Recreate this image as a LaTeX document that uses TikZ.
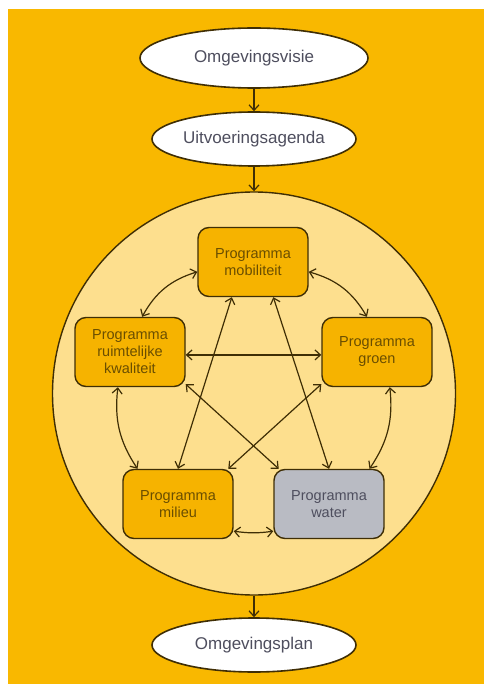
\documentclass[tikz,border=0pt]{standalone}
\usepackage{fontspec}
\setmainfont{Liberation Sans}
\usetikzlibrary{shapes.geometric,arrows.meta}
\definecolor{bgorange}{HTML}{F9B800}
\definecolor{circfill}{HTML}{FDDF8E}
\definecolor{boxfill}{HTML}{F6B300}
\definecolor{boxgray}{HTML}{B9BBC3}
\definecolor{lineb}{HTML}{3F2E05}
\definecolor{elltext}{HTML}{4E4E5E}
\definecolor{boxtext}{HTML}{6A4E00}
\begin{document}
\begin{tikzpicture}[x=1pt,y=1pt,
  ell/.style={ellipse, draw=lineb, fill=white, line width=1.6pt, inner sep=0pt,
    text=elltext, font=\fontsize{17}{20}\selectfont},
  prog/.style={rectangle, rounded corners=11pt, draw=lineb, fill=boxfill, line width=1.4pt,
    minimum width=110pt, minimum height=69pt, inner sep=0pt, align=center,
    text=boxtext, font=\fontsize{14.5}{17}\selectfont},
  tip/.tip={Straight Barb[length=5.5pt,width=10pt,line width=1.2pt]},
  flow/.style={draw=lineb, line width=1.3pt, -tip},
  link/.style={draw=lineb, line width=1.2pt, tip-tip}]
\useasboundingbox (0,0) rectangle (484,-684);
\fill[white] (0,0) rectangle (484,-684);
\fill[bgorange] (8,-9) rectangle (484,-684);

\node[circle, draw=lineb, fill=circfill, line width=1.4pt, minimum size=403pt, inner sep=0pt] (c) at (254,-393.5) {};

\node[ell, minimum width=228pt, minimum height=60pt] (vis) at (254,-58) {Omgevingsvisie};
\node[ell, minimum width=204pt, minimum height=54pt] (uit) at (254,-139) {Uitvoeringsagenda};
\node[ell, minimum width=204pt, minimum height=54pt] (plan) at (254,-645) {Omgevingsplan};

\draw[flow] (vis.south) -- (uit.north);
\draw[flow] (uit.south) -- (c.north);
\draw[flow] (c.south) -- (plan.north);

\node[prog] (mob) at (253,-262) {Programma\\mobiliteit};
\node[prog] (rk) at (130,-352) {Programma\\ruimtelijke\\kwaliteit};
\node[prog] (gr) at (377,-352) {Programma\\groen};
\node[prog] (mil) at (178,-504) {Programma\\milieu};
\node[prog, fill=boxgray, text=elltext] (wat) at (329,-504) {Programma\\water};

\draw[link] (mob.190) to[bend right=22] (rk.71);
\draw[link] (mob.-10) to[bend left=22] (gr.106);
\draw[link] (rk.-3) -- (gr.183);
\draw[link] (rk.-109) to[bend right=20] (mil.139);
\draw[link] (gr.-70) to[bend left=20] (wat.41);
\draw[link] (mil.-26) to[bend right=8] (wat.206);
\draw[link] (mob.239) -- (mil.north);
\draw[link] (mob.300) -- (wat.north);
\draw[link] (rk.-30) -- (wat.145);
\draw[link] (gr.210) -- (mil.35);
\end{tikzpicture}
\end{document}
